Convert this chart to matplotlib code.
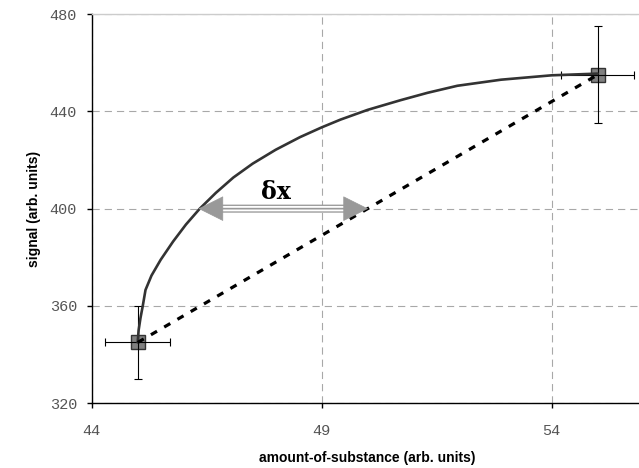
import matplotlib
matplotlib.use("Agg")
import matplotlib.pyplot as plt
import numpy as np

# ---- data ----
points_x = [45.0, 55.0]
points_y = [345, 455]
points_xerr = [0.7, 0.8]
points_yerr = [15, 20]

curve_x = [45.0, 45.02, 45.06, 45.11, 45.17, 45.3, 45.5, 45.77, 46.05, 46.35,
           46.7, 47.08, 47.5, 48.0, 48.53, 49.0, 49.41, 50.0, 50.72,
           51.3, 51.95, 52.9, 54.0, 55.0]
curve_y = [345, 350, 355, 360, 366.6, 372.5, 379, 386.5, 393.5, 400,
           406.5, 412.8, 418.5, 424.2, 429.4, 433.4, 436.6, 440.6, 444.6,
           447.6, 450.5, 453.0, 454.8, 455.5]

line_x = [45.0, 55.0]
line_y = [345, 455]

arrow_x = [46.32, 50.01]
arrow_y = 400
label_text = "δx"
label_pos = (48.0, 406.8)

xticks = [44, 49, 54]
yticks = [320, 360, 400, 440, 480]
xlim = (44, 55.9)
ylim = (320, 480)

# ---- figure ----
W, H = 639, 468
fig = plt.figure(figsize=(W / 100, H / 100), dpi=100)
ax_l, ax_r, ax_t, ax_b = 91.7, 639.0, 14.0, 403.3
ax = fig.add_axes([ax_l / W, 1 - ax_b / H, (ax_r - ax_l) / W, (ax_b - ax_t) / H])

ax.set_xlim(*xlim)
ax.set_ylim(*ylim)
ax.set_xticks(xticks)
ax.set_yticks(yticks)

# grid
ax.set_axisbelow(True)
ax.grid(True, color="#a8a8a8", linewidth=0.8, linestyle=(0, (6.5, 4.5)))

# spines
ax.spines["right"].set_visible(False)
ax.spines["top"].set_color("#cccccc")
ax.spines["top"].set_linewidth(1.0)
for s in ("left", "bottom"):
    ax.spines[s].set_color("black")
    ax.spines[s].set_linewidth(1.0)

mono = "Liberation Mono"
ax.tick_params(axis="both", direction="out", length=3.6, width=1.0, color="black",
               labelsize=11, labelcolor="#555555")
ax.tick_params(axis="x", pad=11)
ax.tick_params(axis="y", pad=7)
for lab in ax.get_xticklabels() + ax.get_yticklabels():
    lab.set_fontfamily(mono)

# axis labels
ax.set_xlabel("amount-of-substance (arb. units)", fontfamily="Liberation Sans",
              fontweight="bold", fontsize=10, va="center")
ax.set_ylabel("signal (arb. units)", fontfamily="Liberation Sans",
              fontweight="bold", fontsize=10, va="center")
ax.xaxis.set_label_coords(0.504, (ax_b - 458) / (ax_b - ax_t))
ax.yaxis.set_label_coords((34 - ax_l) / (ax_r - ax_l), 0.5)

# markers
ax.plot(points_x, points_y, linestyle="none", marker="s", markersize=10.5,
        markerfacecolor="#808080", markeredgecolor="#333333", markeredgewidth=1.0,
        zorder=3)
# error bars
ax.errorbar(points_x, points_y, xerr=points_xerr, yerr=points_yerr, fmt="none",
            ecolor="black", elinewidth=0.8, capsize=3, capthick=0.8, zorder=4)

# curve
ax.plot(curve_x, curve_y, color="#333333", linewidth=1.9, solid_capstyle="round",
        solid_joinstyle="round", zorder=5)
# dotted straight line
ax.plot(line_x, line_y, color="black", linewidth=2.3, linestyle=(0, (2.2, 2.6)),
        zorder=5)

# double arrow (triple-line shaft)
gray = "#999999"
shrink = 13
for lw, col in ((5.8, gray), (3.9, "white"), (1.2, gray)):
    ax.annotate("", xy=(arrow_x[0], arrow_y), xytext=(arrow_x[1], arrow_y),
                arrowprops=dict(arrowstyle="-", color=col, lw=lw,
                                shrinkA=shrink, shrinkB=shrink),
                zorder=6)
ax.annotate("", xy=(arrow_x[0], arrow_y), xytext=(arrow_x[1], arrow_y),
            arrowprops=dict(arrowstyle="<|-|>,head_length=1.7,head_width=0.85",
                            color=gray, lw=0.5, shrinkA=0, shrinkB=0,
                            mutation_scale=10),
            zorder=7)

ax.text(label_pos[0], label_pos[1], label_text, fontfamily="DejaVu Serif",
        fontweight="bold", fontsize=17, ha="center", va="center", color="black",
        zorder=8)

fig.savefig("out.png", dpi=100)
